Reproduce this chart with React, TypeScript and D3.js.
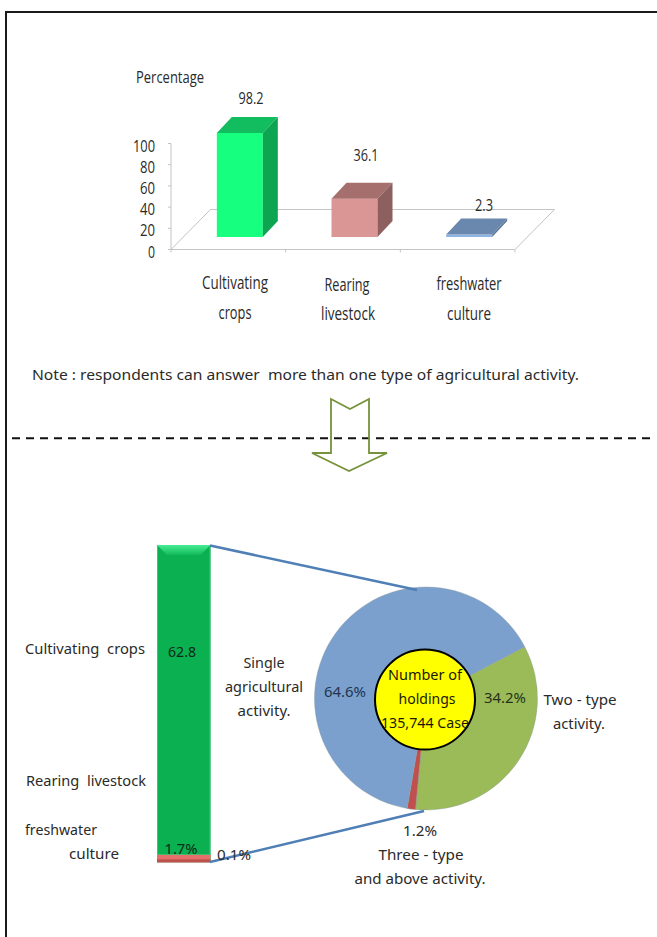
import React from "react";
import * as d3 from "d3";

const W = 657, H = 937;

const barCategories = [["Cultivating", "crops"], ["Rearing", "livestock"], ["freshwater", "culture"]];
const barValues = [98.2, 36.1, 2.3];
const barFront = ["#17ff7f", "#d99694", "#8db4e2"];
const barTop = ["#11bd5e", "#a56f6d", "#6a88ad"];
const barSide = ["#0da552", "#8d5f5e", "#5d789a"];
const yTicks = [0, 20, 40, 60, 80, 100];

const pieLabels = ["Two - type", "Three - type", "Single"];
const pieValues = [34.2, 1.2, 64.6];
const pieColors = ["#9bbb59", "#c0504d", "#7ba0cd"];

const stackValues = [62.8, 1.7, 0.1];

const sans = "'Noto Sans', sans-serif";
const ink = "#2a2a2a";

function T({ x, y, s, size = 14, w, anchor = "middle", fill = ink, narrow = false }: any) {
  return (
    <text x={x} y={y} fontSize={size} fontFamily={narrow ? "'Liberation Sans Narrow', 'Open Sans', sans-serif" : sans}
      textAnchor={anchor} fill={fill} textLength={w} lengthAdjust={w ? "spacingAndGlyphs" : undefined}
      style={{ whiteSpace: "pre" }}>{s}</text>
  );
}

export default function App() {
  const y = d3.scaleLinear().domain([0, 100]).range([249.5, 143.5]);
  const x = d3.scaleBand().domain(["0", "1", "2"]).range([171, 515]);
  const dx = 39.5, dy = 40;
  const floorLift = 249.5 - 237;
  const bw = 46, ox = 15, oy = 16;

  const pieAngle = (62.3 * Math.PI) / 180;
  const pie = d3.pie<number>().sort(null).startAngle(pieAngle).endAngle(pieAngle + 2 * Math.PI);
  const arc = d3.arc<d3.PieArcDatum<number>>().innerRadius(0).outerRadius(111.5);
  const cx = 426, cy = 698.5;

  const stackTop = 545, stackBottom = 862.3, stackX0 = 157, stackX1 = 210.5;
  const red = stackValues[1] * 4.3;
  const sw = stackX1 - stackX0;

  return (
    <svg width={W} height={H} viewBox={`0 0 ${W} ${H}`} style={{ position: "absolute", left: 0, top: 0, background: "#fff" }}>
      <defs>
        <linearGradient id="bevel" x1="0" x2="0" y1="0" y2="1">
          <stop offset="0" stopColor="#45ee92" />
          <stop offset="1" stopColor="#12b95a" />
        </linearGradient>
      </defs>
      <path d="M6,937V12H657" fill="none" stroke="#1a1a1a" strokeWidth={2} />

      {/* 3D column chart */}
      <path d={`M${x.range()[0]},${y(0)}L${x.range()[0] + dx},${y(0) - dy}H${x.range()[1] + dx}L${x.range()[1]},${y(0)}Z`} fill="#fff" stroke="#c4c4c4" />
      <line x1={x.range()[0]} x2={x.range()[0]} y1={y(100)} y2={y(0)} stroke="#c4c4c4" />
      {yTicks.map((t) => (
        <g key={t}>
          <line x1={x.range()[0] - 3} x2={x.range()[0]} y1={y(t)} y2={y(t)} stroke="#c4c4c4" />
          <T x={155} y={y(t) + 8} s={t} size={16} w={t === 100 ? 22 : t === 0 ? 7 : 15} anchor="end" narrow />
        </g>
      ))}
      {[0, 1, 2, 3].map((i) => {
        const px = x.range()[0] + x.step() * i;
        return <line key={i} x1={px} x2={px} y1={y(0)} y2={y(0) + 3} stroke="#c4c4c4" />;
      })}
      <T x={136} y={83} s="Percentage" size={17} w={68} anchor="start" narrow />

      {barValues.map((v, i) => {
        const x0 = x(String(i))! + (x.bandwidth() - bw) / 2 + floorLift - 1;
        const yb = y(0) - floorLift;
        const yt = yb - (y(0) - y(v));
        return (
          <g key={i}>
            <rect x={x0} y={yt} width={bw} height={yb - yt} fill={barFront[i]} />
            <path d={`M${x0},${yt}l${ox},${-oy}h${bw}l${-ox},${oy}Z`} fill={barTop[i]} />
            <path d={`M${x0 + bw},${yt}l${ox},${-oy}V${yb - oy}l${-ox},${oy}Z`} fill={barSide[i]} />
          </g>
        );
      })}
      <T x={251} y={104} s="98.2" size={17} w={25} narrow />
      <T x={366} y={161} s="36.1" size={17} w={25} narrow />
      <T x={484} y={211} s="2.3" size={17} w={18} narrow />
      <T x={235} y={289} s={barCategories[0][0]} size={18} w={66} narrow />
      <T x={235} y={319} s={barCategories[0][1]} size={18} w={33} narrow />
      <T x={347} y={291} s={barCategories[1][0]} size={18} w={45} narrow />
      <T x={348} y={320} s={barCategories[1][1]} size={18} w={54} narrow />
      <T x={469} y={290} s={barCategories[2][0]} size={18} w={65} narrow />
      <T x={469} y={320} s={barCategories[2][1]} size={18} w={44} narrow />

      <T x={32} y={380} s="Note : respondents can answer  more than one type of agricultural activity." size={15} w={547} anchor="start" />

      {/* Divider and arrow */}
      <line x1={12} x2={651} y1={438.3} y2={438.3} stroke="#111" strokeWidth={2} strokeDasharray="8 6" />
      <path d="M331,399L350,409L369,399V453H387L349,471L312,453H331Z" fill="none" stroke="#76923c" strokeWidth={1.8} />

      {/* Stacked column */}
      <rect x={stackX0} y={stackTop} width={sw} height={stackBottom - stackTop} fill="#0bb051" />
      <rect x={stackX0} y={stackTop} width={1} height={stackBottom - stackTop} fill="#3fc47d" />
      <rect x={stackX1 - 1} y={stackTop} width={1} height={stackBottom - stackTop} fill="#3fc47d" />
      <path d={`M${stackX0},${stackTop}H${stackX1}L${stackX1 - 10},${stackTop + 10}H${stackX0 + 10}Z`} fill="url(#bevel)" />
      <rect x={stackX0} y={stackBottom - red - 0.5} width={sw} height={1.5} fill="#7fc48d" />
      <rect x={stackX0} y={stackBottom - red} width={sw} height={red} fill="#e4706c" />
      <rect x={stackX0} y={stackBottom - 3} width={sw} height={3} fill="#c0504d" />

      <T x={182} y={657} s={`${stackValues[0]}`} size={14} w={28} fill="#0c2a18" />
      <T x={181} y={854} s={`${stackValues[1]}%`} size={14} w={33} fill="#0c2a18" />

      {/* Pie */}
      {pie(pieValues).map((d, i) => (
        <path key={i} d={arc(d)!} transform={`translate(${cx},${cy})`} fill={pieColors[i]} stroke="#8a9a9a" strokeWidth={0.4} />
      ))}
      <line x1={210} y1={545.5} x2={417} y2={590} stroke="#4f7fb5" strokeWidth={2.6} />
      <line x1={210} y1={862} x2={424} y2={811} stroke="#4f7fb5" strokeWidth={2.6} />
      <T x={217} y={860} s={`${stackValues[2]}%`} size={14} w={34} anchor="start" />

      <circle cx={425} cy={699.5} r={50} fill="#ffff00" stroke="#000" strokeWidth={2} />
      <T x={425} y={680} s="Number of" size={14} w={74} fill="#1a1a00" />
      <T x={427} y={704} s="holdings" size={14} w={57} fill="#1a1a00" />
      <T x={425} y={728} s="135,744 Case" size={14} w={88} fill="#1a1a00" />

      <T x={345} y={697} s={`${pieValues[2]}%`} size={14} w={42} fill="#1f3550" />
      <T x={505} y={703} s={`${pieValues[0]}%`} size={14} w={42} fill="#26331a" />
      <T x={580} y={705} s={pieLabels[0]} size={14} w={73} />
      <T x={579} y={729} s="activity." size={14} w={52} />
      <T x={420} y={836} s={`${pieValues[1]}%`} size={14} w={34} />
      <T x={421} y={860} s={pieLabels[1]} size={14} w={85} />
      <T x={420} y={884} s="and above activity." size={14} w={131} />

      <T x={264} y={668} s={pieLabels[2]} size={14} w={41} />
      <T x={264} y={692} s="agricultural" size={14} w={78} />
      <T x={264} y={716} s="activity." size={14} w={53} />

      <T x={25} y={654} s="Cultivating  crops" size={14} w={120} anchor="start" />
      <T x={26} y={786} s="Rearing  livestock" size={14} w={120} anchor="start" />
      <T x={25} y={835} s="freshwater" size={14} w={72} anchor="start" />
      <T x={69} y={859} s="culture" size={14} w={50} anchor="start" />
    </svg>
  );
}
